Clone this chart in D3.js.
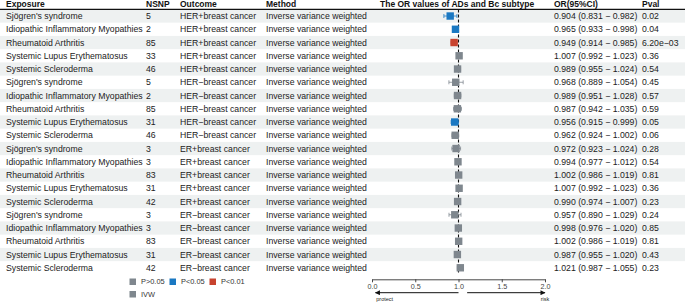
<!DOCTYPE html>
<html><head><meta charset="utf-8">
<script src="https://cdn.jsdelivr.net/npm/d3@7"></script>
<style>
html,body{margin:0;padding:0;background:#fff;}
svg{display:block;font-family:"Liberation Sans",Arial,sans-serif;}
</style></head>
<body>
<svg id="chart" width="685" height="303"></svg>
<script>
const exposures = ["Sjögren's syndrome","Idiopathic Inflammatory Myopathies","Rheumatoid Arthritis","Systemic Lupus Erythematosus","Systemic Scleroderma",
  "Sjögren's syndrome","Idiopathic Inflammatory Myopathies","Rheumatoid Arthritis","Systemic Lupus Erythematosus","Systemic Scleroderma",
  "Sjögren's syndrome","Idiopathic Inflammatory Myopathies","Rheumatoid Arthritis","Systemic Lupus Erythematosus","Systemic Scleroderma",
  "Sjögren's syndrome","Idiopathic Inflammatory Myopathies","Rheumatoid Arthritis","Systemic Lupus Erythematosus","Systemic Scleroderma"];
const nsnp = [5,2,85,33,46,5,2,85,31,46,3,3,83,31,42,3,3,83,31,42];
const outcomes = ["HER+breast cancer","HER+breast cancer","HER+breast cancer","HER+breast cancer","HER+breast cancer",
  "HER\u2212breast cancer","HER\u2212breast cancer","HER\u2212breast cancer","HER\u2212breast cancer","HER\u2212breast cancer",
  "ER+breast cancer","ER+breast cancer","ER+breast cancer","ER+breast cancer","ER+breast cancer",
  "ER\u2212breast cancer","ER\u2212breast cancer","ER\u2212breast cancer","ER\u2212breast cancer","ER\u2212breast cancer"];
const methods = Array(20).fill("Inverse variance weighted");
const orVal = [0.904,0.965,0.949,1.007,0.989,0.968,0.989,0.987,0.956,0.962,0.972,0.994,1.002,1.007,0.990,0.957,0.998,1.002,0.987,1.021];
const ciLow = [0.831,0.933,0.914,0.992,0.955,0.889,0.951,0.942,0.915,0.924,0.923,0.977,0.986,0.992,0.974,0.890,0.976,0.986,0.955,0.987];
const ciHigh = [0.982,0.998,0.985,1.023,1.024,1.054,1.028,1.035,0.999,1.002,1.024,1.012,1.019,1.023,1.007,1.029,1.020,1.019,1.020,1.055];
const pvals = ["0.02","0.04","6.20e\u221203","0.36","0.54","0.45","0.57","0.59","0.05","0.06","0.28","0.54","0.81","0.36","0.23","0.24","0.85","0.81","0.43","0.23"];
const sigGroup = ["P<0.05","P<0.05","P<0.01","P>0.05","P>0.05","P>0.05","P>0.05","P>0.05","P<0.05","P>0.05",
  "P>0.05","P>0.05","P>0.05","P>0.05","P>0.05","P>0.05","P>0.05","P>0.05","P>0.05","P>0.05"];
const xTicks = [0.0,0.5,1.0,1.5,2.0];
const legendLabels = ["P>0.05","P<0.05","P<0.01"];
const headers = ["Exposure","NSNP","Outcome","Method","The OR values of ADs and Bc subtype","OR(95%CI)","Pval"];

const colors = {"P>0.05":"#7f878e","P<0.05":"#1a78c2","P<0.01":"#c8432f"};
const fmt = d3.format(".3f");

const svg = d3.select("#chart");
const n = exposures.length;
const topY = 9.4, rowH = 13.25;
const y = d3.scaleBand().domain(d3.range(n)).range([topY, topY + n*rowH]).padding(0);
const x = d3.scaleLinear().domain([0,2]).range([372,545]);
const colX = [6,146,180,266,380,554,642];
const fs = 8.7;

// stripes
svg.append("g").selectAll("rect").data(d3.range(n).filter(i => i%2===0)).join("rect")
  .attr("x",0).attr("width",685).attr("y",i=>y(i)).attr("height",y.bandwidth()).attr("fill","#eef1f1");

// header
svg.append("g").selectAll("text").data(headers).join("text")
  .attr("x",(d,i)=>colX[i]).attr("y",4.3).attr("dy","0.35em")
  .attr("font-size",8.5).attr("font-weight","bold").attr("fill","#111").text(d=>d);
svg.append("line").attr("x1",0).attr("x2",685).attr("y1",topY).attr("y2",topY).attr("stroke","#111").attr("stroke-width",1.4);

// table text
const rows = d3.range(n).map(i => [exposures[i], String(nsnp[i]), outcomes[i], methods[i], null,
  `${fmt(orVal[i])} (${fmt(ciLow[i])} \u2212 ${fmt(ciHigh[i])})`, pvals[i]]);
const rg = svg.append("g");
rows.forEach((r,i) => {
  r.forEach((t,j) => {
    if (t===null) return;
    rg.append("text").attr("x",colX[j]).attr("y",y(i)+y.bandwidth()/2).attr("dy","0.35em")
      .attr("font-size",fs).attr("fill","#222").text(t);
  });
});

// reference line
svg.append("line").attr("x1",x(1)).attr("x2",x(1)).attr("y1",topY).attr("y2",topY+n*rowH)
  .attr("stroke","#111").attr("stroke-width",1.1).attr("stroke-dasharray","3,2");

// error bars
const eg = svg.append("g");
d3.range(n).forEach(i => {
  const cy = y(i)+y.bandwidth()/2, c = colors[sigGroup[i]];
  eg.append("line").attr("x1",x(ciLow[i])).attr("x2",x(ciHigh[i])).attr("y1",cy).attr("y2",cy).attr("stroke",c).attr("stroke-width",0.9).attr("opacity",0.85);
  [ciLow[i],ciHigh[i]].forEach(v => eg.append("line").attr("x1",x(v)).attr("x2",x(v)).attr("y1",cy-2).attr("y2",cy+2).attr("stroke",c).attr("stroke-width",0.9).attr("opacity",0.85));
  const s = 7.4;
  eg.append("rect").attr("x",x(orVal[i])-s/2).attr("y",cy-s/2).attr("width",s).attr("height",s).attr("fill",c);
});

// axis
const axY = 279.3;
const ax = svg.append("g").attr("transform",`translate(0,${axY})`)
  .call(d3.axisBottom(x).tickValues(xTicks).tickFormat(d3.format(".1f")).tickSize(3).tickSizeOuter(0));
ax.select(".domain").attr("stroke","#333").attr("stroke-width",0.9);
ax.selectAll(".tick line").attr("stroke","#333").attr("stroke-width",0.9);
ax.selectAll(".tick text").attr("font-size",7.2).attr("fill","#444").attr("font-family","Liberation Sans, Arial, sans-serif").attr("dy","0.35em").attr("y",7);

// arrows
const defs = svg.append("defs");
defs.append("marker").attr("id","ah").attr("viewBox","0 0 10 10").attr("refX",9).attr("refY",5)
  .attr("markerWidth",7).attr("markerHeight",5).attr("markerUnits","userSpaceOnUse").attr("orient","auto-start-reverse")
  .append("path").attr("d","M0,0L10,5L0,10Z").attr("fill","#111");
const arY = 292.7;
svg.append("line").attr("x1",x(1)).attr("x2",x(0.04)).attr("y1",arY).attr("y2",arY).attr("stroke","#111").attr("stroke-width",1).attr("marker-end","url(#ah)");
svg.append("line").attr("x1",x(1.1)).attr("x2",x(2.0)).attr("y1",arY).attr("y2",arY).attr("stroke","#111").attr("stroke-width",1).attr("marker-end","url(#ah)");
svg.append("text").attr("x",x(0.05)).attr("y",299.5).attr("dy","0.35em").attr("font-size",5.5).attr("fill","#222").text("protect");
svg.append("text").attr("x",x(2.0)).attr("y",299.5).attr("dy","0.35em").attr("font-size",5.5).attr("fill","#222").attr("text-anchor","middle").text("risk");

// legend
const lg = svg.append("g");
const lgX = [129.5,169.5,209.5];
legendLabels.forEach((l,i) => {
  lg.append("rect").attr("x",lgX[i]).attr("y",278.5).attr("width",6.5).attr("height",6.5).attr("fill",colors[l]);
  lg.append("text").attr("x",lgX[i]+11.5).attr("y",281.7).attr("dy","0.35em").attr("font-size",7.4).attr("fill","#333").text(l);
});
lg.append("rect").attr("x",129.5).attr("y",291).attr("width",6.5).attr("height",6.5).attr("fill",colors["P>0.05"]);
lg.append("text").attr("x",141).attr("y",294.2).attr("dy","0.35em").attr("font-size",7.4).attr("fill","#333").text("IVW");
</script>
</body></html>
